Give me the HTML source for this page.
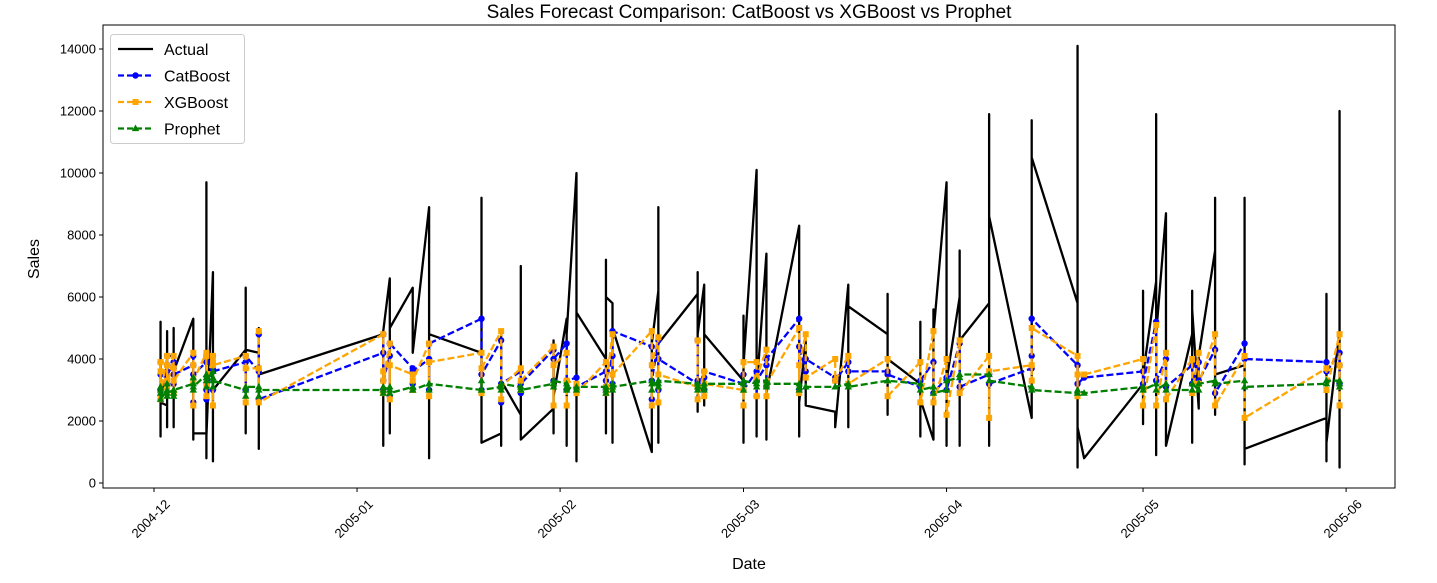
<!DOCTYPE html>
<html><head><meta charset="utf-8"><style>
body{margin:0;background:#fff;}
svg{display:block;font-family:"Liberation Sans","DejaVu Sans",sans-serif;}
</style></head><body>
<svg id="chart" width="1437" height="583">
<text x="749" y="18" text-anchor="middle" font-size="19">Sales Forecast Comparison: CatBoost vs XGBoost vs Prophet</text>
<text x="749" y="569" text-anchor="middle" font-size="16">Date</text>
<text x="39" y="259" text-anchor="middle" font-size="16" transform="rotate(-90 39 259)">Sales</text>
<g id="plot"></g>
<rect x="103" y="25" width="1292" height="463" fill="none" stroke="#000" stroke-width="1"/>
<g id="axes"></g>
<g id="legend"></g>
</svg>
<script>
const days=[1,2,3,6,8,9,14,16,35,36,39.5,42,50,53,56,61,63,64.5,69,70,76,77,83,84,90,92,93.5,98.5,99.5,104,106,112,117,119,121,123,127.5,134,141,142,151,153,154.5,158.5,159.5,162,166.5,179,181];
const actual=[[3700,5200,1500,2600],[2500,4900,1800,4100],[4100,5000,1800,3600],[5300,1400,1700,1600],[1600,9700,800,1500],[6800,700,5900,3000],[4300,6300,1600,4300],[4200,5000,1100,3500],[4800,1200,4900],[6600,1600,5000],[6300,4200],[8900,800,4800],[4200,1700,9200,1300],[1600,4900,1200,3300],[2200,7000,1400],[2400,4600,1600,2800],[5300,1200,4800],[10000,700,5500],[4000,7200,1600,6000],[5800,1300,5000],[1000,4900,1300,4500],[6200,1300,8900,4500],[6100,6800,2300,4800],[6400,2500,4800],[3300,5400,1300,3800],[10100,1500,3000],[7400,1400,2900],[8300,1500,2600],[4600,2500],[2300,1800],[6400,1800,2300,5700],[4800,6100,2200,4000],[3200,5200,1500,2700],[1400,5600,2600,4800],[9700,1200,3300],[6000,7500,1200,4600],[5800,8600,1200,11900,8600],[2100,11700,9000,7200,10500],[5800,14100,500,2000,1800],[800],[3200,6200,1900,3500],[6500,11900,900,4800],[8700,1200,6100,1200],[4800,6200,1300,5600],[2400,4100],[7500,9200,2200,3500],[3800,9200,600,1100],[2100,6100,700,1300],[4900,900,12000,500,4800]];
const catboost=[[3900,3000,3500,2700],[3800,4100,3200,3600],[3700,3200,3900,3500],[3800,2600,4100,3500],[3900,2700,4100,3000],[3700,3000,4100,3600],[3900,3000,4100],[3600,4800,2700],[4200,3000,4800,3300],[4100,2800,4500],[3700,3200,3600],[4000,3000,4500],[5300,3000,3500],[4600,2600,3200],[3600,2900,3200],[4300,3300,4000],[4500,3000,3300],[3400,3100],[3600,3000,3300],[4100,3200,4900],[4400,2700,3300],[4600,3000,4000],[3200,4600,3300],[3400,3000,3600],[3200,3500,3000],[3600,2800,3300],[3800,3100,4000],[5300,3000,4400],[3600,4000],[3400,3300],[3900,3600],[3600,3500],[3100,3300],[3900,2900],[3400,3000],[4500,3100],[3500,3200],[3700,4100,5300],[3800,3200],[3400],[3600,3200],[5200,3300],[4000,3100],[3800,3200],[3900,3300],[4300,2900],[4500,4000],[3900,3600],[4200,3800,3200]];
const xgboost=[[3900,2700,3600,2800],[4100,3300,3800,3100],[4100,2900,3700,3300],[4200,2500,3800,3300],[4200,2800,4100,3200],[4100,2500,3900,3800],[4100,2600,3700],[3700,4900,2600],[4800,2900,3600,3300],[4500,2700,3800],[3500,3000,3300],[4500,2800,3900],[4200,2900,3700],[4900,2700,3100],[3700,3000,3300],[4400,2500,3800],[4200,2500,3300],[3200,2900],[3900,2900,3100],[4800,3100,3500],[4900,2500,3800],[4700,2600,3500],[3100,4600,2700],[3600,2800,3200],[3000,2500,3900],[3900,2800,3400],[4300,2800,3200],[5000,2900,3800],[4800,3400],[4000,3300],[4100,3200],[4000,2800],[3900,2600],[4900,2600],[4000,2200],[4600,2900],[4100,2100,3600],[3800,3300,5000],[4100,2800,3500],[3500],[4000,2500],[5100,2500],[4200,2700],[4000,2900],[4200,3200],[4800,2500],[4100,2100],[3700,3000],[4800,2500,3800]];
const prophet=[[3100,2900,3000,2700],[3000,2800,3200,2900],[3000,2800,2900,3000],[3200,3000,3400,3100],[3500,3100,3400,3300],[3600,3100,3400,3300],[3000,2800,3100],[3100,2800,3000],[3000,2900,3100],[3000,3100,2900],[3100,3000,3000],[3200,3000,3200],[3000,3300,3000],[3100,3000,3200],[3100,3000,3000],[3200,3100,3300],[3200,3000,3100],[3000,3100],[3100,2900,3000],[3200,3000,3100],[3300,3000,3200],[3200,3100,3300],[3200,3000,3100],[3000,3100,3200],[3200,3000,3300],[3200,3100,3300],[3300,3100,3200],[3200,3000,3100],[3100,3100],[3100,3100],[3200,3100],[3300,3300],[3200,3000],[3100,2900],[3000,3300],[3400,3500],[3500,3300],[3100,3000],[2900,3000],[2900],[3100,3000],[3200,3000],[3200,3000],[3000,3200],[3000,3200],[3300,3200],[3300,3100],[3200,3300],[3300,3100,3200]];
const yTicks=[0,2000,4000,6000,8000,10000,12000,14000];
const xTickDays=[0,31,62,90,121,151,182];
const xTickLabels=["2004-12","2005-01","2005-02","2005-03","2005-04","2005-05","2005-06"];

const NS="http://www.w3.org/2000/svg";
const xS=d=>154+d*6.55;
const yS=v=>483-v*0.031;
function mk(tag,attrs,parent){const e=document.createElementNS(NS,tag);for(const k in attrs)e.setAttribute(k,attrs[k]);parent.appendChild(e);return e;}
const plot=document.getElementById('plot'),axes=document.getElementById('axes'),legend=document.getElementById('legend');

function pts(series){const p=[];days.forEach((d,i)=>series[i].forEach(v=>p.push([xS(d),yS(v)])));return p;}
function drawLine(series,color,dash,name){
  const p=pts(series);
  const l=mk('polyline',{points:p.map(q=>q.join(',')).join(' '),fill:'none',stroke:color,'stroke-width':2.3,'stroke-dasharray':dash,'stroke-linejoin':'round'},plot);
  
  
  return p;
}
function marker(type,x,y,color,parent){
  let e;
  if(type==='o')e=mk('circle',{cx:x,cy:y,r:3.2,fill:color},parent);
  else if(type==='s')e=mk('rect',{x:x-3,y:y-3,width:6,height:6,fill:color},parent);
  else e=mk('polygon',{points:`${x},${y-4} ${x-3.7},${y+2.6} ${x+3.7},${y+2.6}`,fill:color},parent);
  return e;
}
drawLine(actual,'#000','none','actual');
[[catboost,'blue','o','catboost'],[xgboost,'orange','s','xgboost'],[prophet,'green','^','prophet']].forEach(([s,c,m,n])=>{
  const p=drawLine(s,c,'7,3',n);
  const g=mk('g',{},plot);
  
  
  p.forEach(q=>{const e=marker(m,q[0],q[1],c,g);});
});

yTicks.forEach(v=>{
  const y=yS(v);
  mk('line',{x1:99,x2:103,y1:y,y2:y,stroke:'#000'},axes);
  const t=mk('text',{x:96,y:y+4.5,'text-anchor':'end','font-size':13},axes);
  t.textContent=v;
  
  
});
xTickDays.forEach((d,i)=>{
  const x=xS(d);
  mk('line',{x1:x,x2:x,y1:488,y2:492,stroke:'#000'},axes);
  const cx=x-3, cy=519;
  const t=mk('text',{x:cx,y:cy+4,'text-anchor':'middle','font-size':13,transform:`rotate(-45 ${cx} ${cy})`},axes);
  t.textContent=xTickLabels[i];
  
  
});

mk('rect',{x:110.5,y:34.5,width:134,height:109,rx:3,fill:'#fff',stroke:'#ccc'},legend);
[['Actual','#000',null,'none'],['CatBoost','blue','o','6,3'],['XGBoost','orange','s','6,3'],['Prophet','green','^','6,3']].forEach(([lab,c,m,dash],i)=>{
  const y=49+i*26.5;
  const g=mk('g',{},legend);
  
  
  mk('line',{x1:118,x2:153,y1:y,y2:y,stroke:c,'stroke-width':2.3,'stroke-dasharray':dash},g);
  if(m)marker(m,135.5,y,c,g);
  const t=mk('text',{x:164,y:y+6,'font-size':16},g);
  t.textContent=lab;
});
</script>
</body></html>
